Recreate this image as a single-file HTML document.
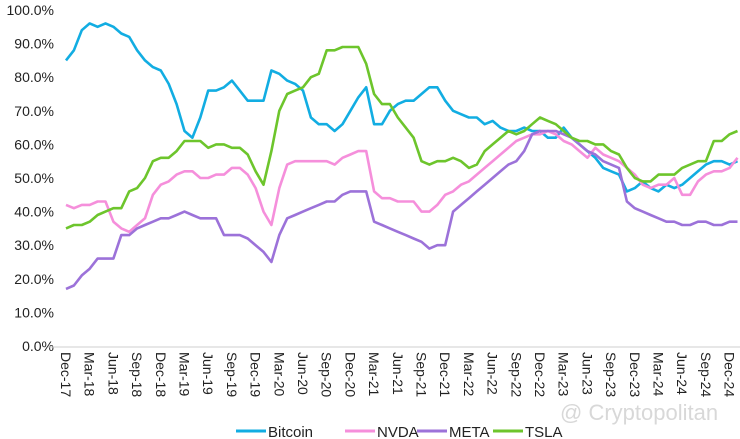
<!DOCTYPE html>
<html><head><meta charset="utf-8"><style>
body{margin:0;background:#fff;font-family:"Liberation Sans",sans-serif;}
svg{display:block}
</style></head><body>
<svg id="chart" width="740" height="439" viewBox="0 0 740 439">
<g id="yaxis"></g>
<g id="xaxis"></g>
<g id="series"></g>
<text x="560" y="420" font-size="22" fill="#d8d8d8">@ Cryptopolitan</text>
<g id="legend"></g>
</svg>
<script>
const yTicks=[0,10,20,30,40,50,60,70,80,90,100];
const xLabels=["Dec-17","Mar-18","Jun-18","Sep-18","Dec-18","Mar-19","Jun-19","Sep-19","Dec-19","Mar-20","Jun-20","Sep-20","Dec-20","Mar-21","Jun-21","Sep-21","Dec-21","Mar-22","Jun-22","Sep-22","Dec-22","Mar-23","Jun-23","Sep-23","Dec-23","Mar-24","Jun-24","Sep-24","Dec-24"];
const seriesNames=["Bitcoin","NVDA","META","TSLA"];
const bitcoin=[85,88,94,96,95,96,95,93,92,88,85,83,82,78,72,64,62,68,76,76,77,79,76,73,73,73,82,81,79,78,76,68,66,66,64,66,70,74,77,66,66,70,72,73,73,75,77,77,73,70,69,68,68,66,67,65,64,64,65,64,64,62,62,65,62,60,58,56,53,52,51,46,47,49,47,46,48,47,48,50,52,54,55,55,54,55];
const nvda=[42,41,42,42,43,43,37,35,34,36,38,45,48,49,51,52,52,50,50,51,51,53,53,51,47,40,36,47,54,55,55,55,55,55,54,56,57,58,58,46,44,44,43,43,43,40,40,42,45,46,48,49,51,53,55,57,59,61,62,63,63,64,63,61,60,58,56,59,57,56,55,53,51,48,47,48,48,50,45,45,49,51,52,52,53,56];
const meta=[17,18,21,23,26,26,26,33,33,35,36,37,38,38,39,40,39,38,38,38,33,33,33,32,30,28,25,33,38,39,40,41,42,43,43,45,46,46,46,37,36,35,34,33,32,31,29,30,30,40,42,44,46,48,50,52,54,55,58,63,64,64,64,63,62,60,58,57,55,54,53,43,41,40,39,38,37,37,36,36,37,37,36,36,37,37];
const tsla=[35,36,36,37,39,40,41,41,46,47,50,55,56,56,58,61,61,61,59,60,60,59,59,57,52,48,58,70,75,76,77,80,81,88,88,89,89,89,84,75,72,72,68,65,62,55,54,55,55,56,55,53,54,58,60,62,64,63,64,66,68,67,66,64,62,61,61,60,60,58,57,53,50,49,49,51,51,51,53,54,55,55,61,61,63,64];
const colors=["#12ade2","#f58fdb","#9c72d9","#6dc52c"];
const NS="http://www.w3.org/2000/svg";
const X0=66,DX=7.9,Y0=346,DY=3.36;
const xs=m=>X0+m*DX;
const ys=v=>Y0-v*DY;
function mk(tag,attrs,parent){const e=document.createElementNS(NS,tag);for(const k in attrs)e.setAttribute(k,attrs[k]);parent.appendChild(e);return e;}
const ya=document.getElementById('yaxis');
yTicks.forEach(t=>{const e=mk('text',{x:54,y:ys(t)+5,'text-anchor':'end','font-size':14,fill:'#222'},ya);


e.textContent=t.toFixed(1)+'%';});
const xa=document.getElementById('xaxis');
const al=mk('line',{x1:48,y1:Y0+1,x2:740,y2:Y0+1,stroke:'#cfcfcf','stroke-width':1},xa);


xLabels.forEach((l,i)=>{const x=xs(i*3);const e=mk('text',{x:0,y:0,'font-size':14,fill:'#222',transform:`translate(${x-5},352) rotate(90)`},xa);


e.textContent=l;});
const sg=document.getElementById('series');
[bitcoin,nvda,meta,tsla].forEach((d,si)=>{const p=d.map((v,i)=>(i?'L':'M')+xs(i).toFixed(1)+','+ys(v).toFixed(1)).join('');
const e=mk('path',{d:p,fill:'none',stroke:colors[si],'stroke-width':2.6,'stroke-linejoin':'round'},sg);

});
const lg=document.getElementById('legend');
const lx=[236,345,417,493];
seriesNames.forEach((n,i)=>{const g=mk('g',{},lg);


mk('line',{x1:lx[i],y1:431,x2:lx[i]+30,y2:431,stroke:colors[i],'stroke-width':3},g);
const t=mk('text',{x:lx[i]+32,y:437,'font-size':15,fill:'#222'},g);t.textContent=n;});
</script>
</body></html>
